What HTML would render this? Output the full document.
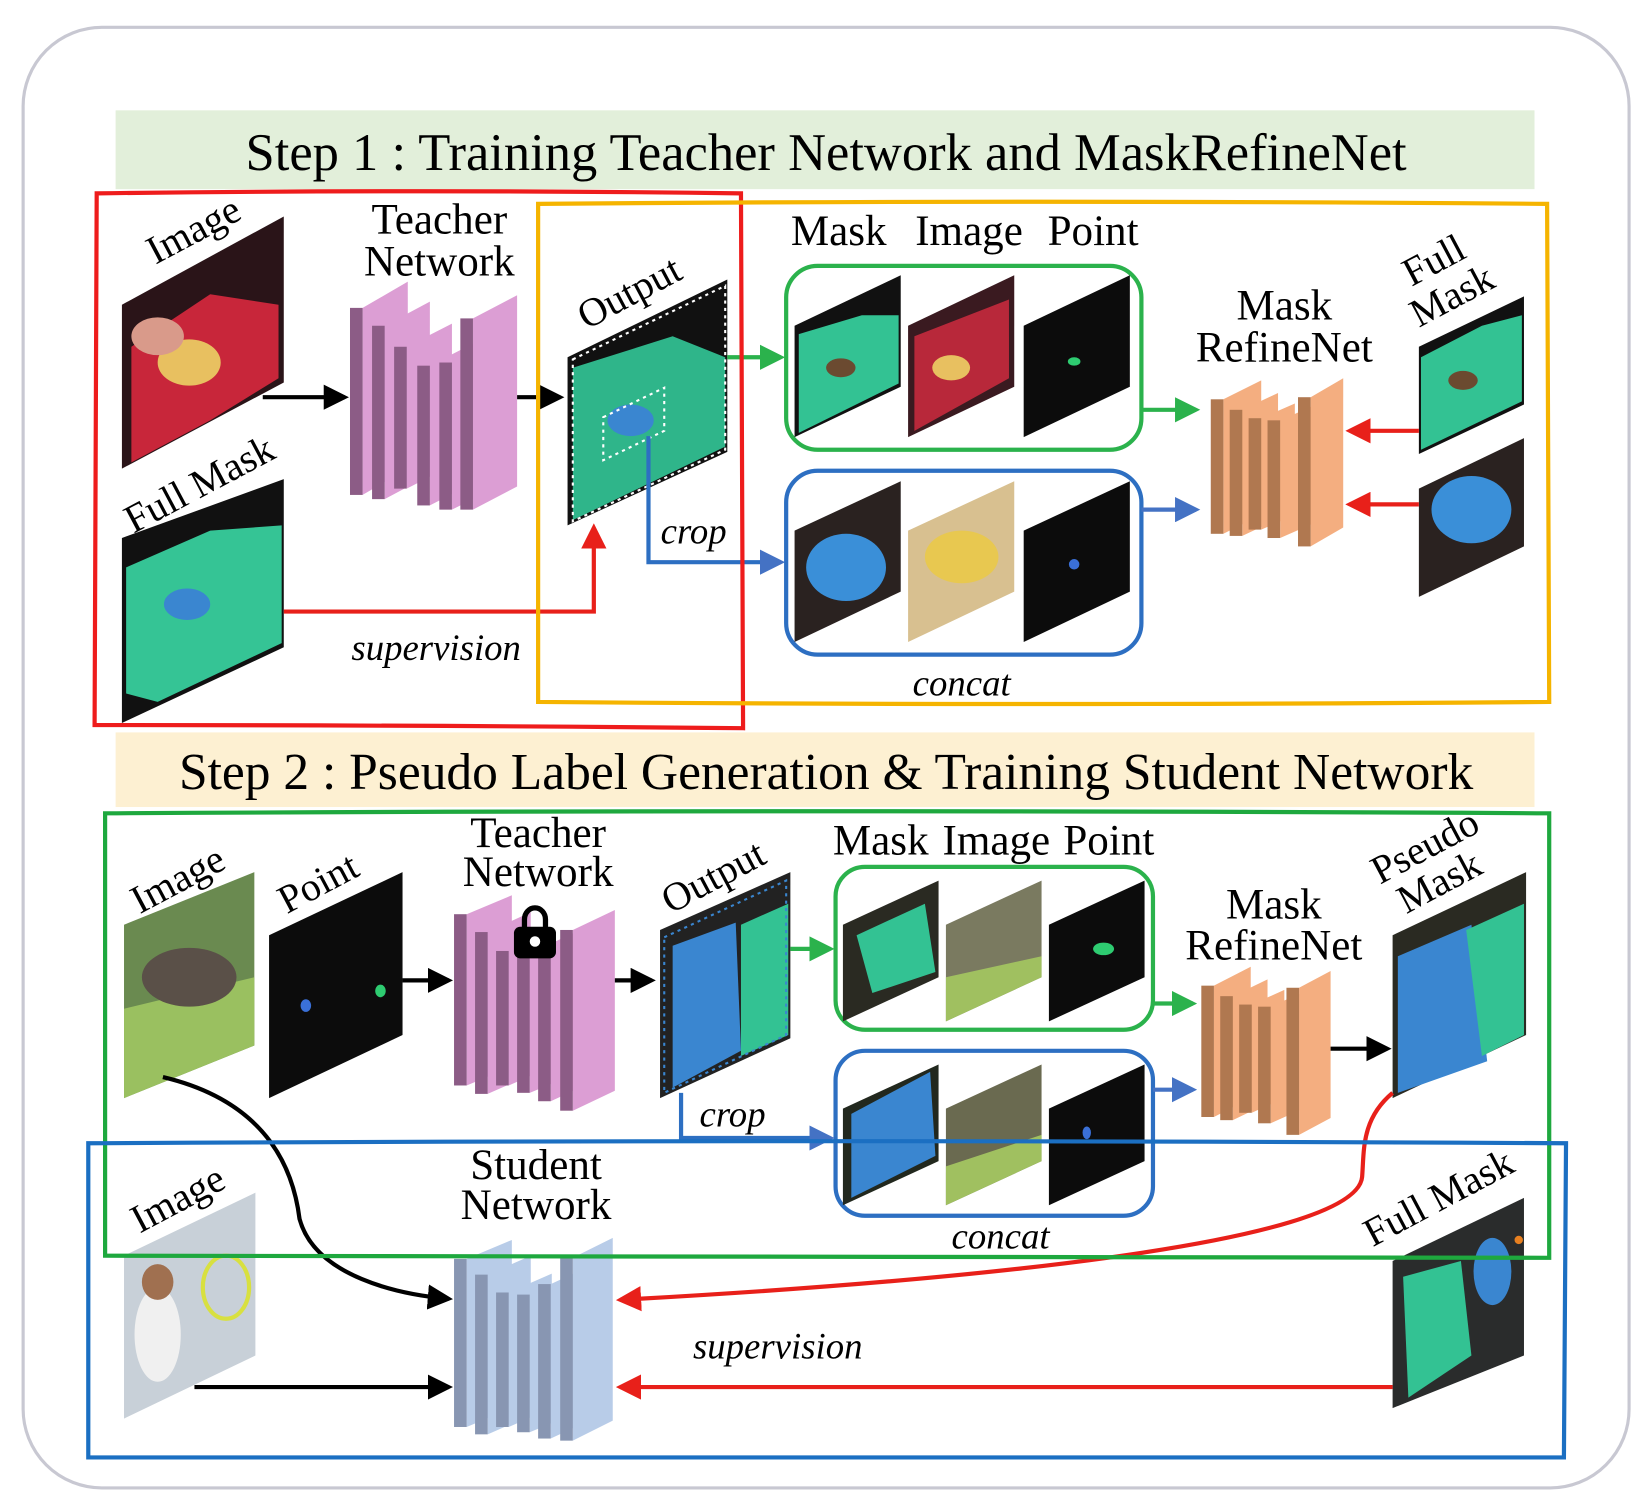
<!DOCTYPE html>
<html><head><meta charset="utf-8"><style>
html,body{margin:0;padding:0;background:#fff;}
svg{display:block;}
text{font-family:"Liberation Serif",serif;fill:#000;}
.it{font-style:italic;}
</style></head><body>
<svg width="1648" height="1510" viewBox="0 0 1568 1437" preserveAspectRatio="none" xmlns="http://www.w3.org/2000/svg">
<defs>
<marker id="ak" markerWidth="6" markerHeight="6" refX="5" refY="3" orient="auto" markerUnits="strokeWidth"><path d="M0,0 L6,3 L0,6 Z" fill="#000"/></marker>
<marker id="ar" markerWidth="6" markerHeight="6" refX="5" refY="3" orient="auto" markerUnits="strokeWidth"><path d="M0,0 L6,3 L0,6 Z" fill="#e8201a"/></marker>
<marker id="ag" markerWidth="6" markerHeight="6" refX="5" refY="3" orient="auto" markerUnits="strokeWidth"><path d="M0,0 L6,3 L0,6 Z" fill="#2bb24c"/></marker>
<marker id="ab" markerWidth="6" markerHeight="6" refX="5" refY="3" orient="auto" markerUnits="strokeWidth"><path d="M0,0 L6,3 L0,6 Z" fill="#4472c4"/></marker>
</defs>

<rect x="22" y="26" width="1528" height="1390" rx="75" fill="#fff" stroke="#c8c8d2" stroke-width="3"/>

<rect x="110" y="105" width="1350" height="75" fill="#e2efda"/>
<text x="786" y="162" font-size="50" text-anchor="middle">Step 1 : Training Teacher Network and MaskRefineNet</text>
<rect x="110" y="697" width="1350" height="71" fill="#fdf0d2"/>
<text x="786" y="751" font-size="49" text-anchor="middle">Step 2 : Pseudo Label Generation &amp; Training Student Network</text>

<!-- STEP 1 -->
<polygon points="116,290 270,206 270,364 116,446" fill="#2a1418"/>
<polygon points="125,330 200,280 265,290 265,360 200,400 125,440" fill="#c8263a"/>
<ellipse cx="180" cy="345" rx="30" ry="22" fill="#e8c060"/>
<ellipse cx="150" cy="320" rx="25" ry="18" fill="#d99a8a"/>
<text transform="translate(148,252) rotate(-28)" font-size="38">Image</text>
<polygon points="116,512 270,456 270,616 116,688" fill="#111"/>
<polygon points="120,540 200,505 268,500 268,612 150,668 120,660" fill="#35c495"/>
<ellipse cx="178" cy="575" rx="22" ry="15" fill="#3a86d0"/>
<text transform="translate(127,508) rotate(-28)" font-size="38">Full Mask</text>

<text x="418" y="222" font-size="41" text-anchor="middle">Teacher</text>
<text x="418" y="262" font-size="41" text-anchor="middle">Network</text>
<g>
<polygon points="345,293 388,268 388,446 345,471" fill="#dc9ed4"/><rect x="333" y="293" width="12" height="178" fill="#8c5c86"/>
<polygon points="366,310 409,287 409,452 366,475" fill="#dc9ed4"/><rect x="354" y="310" width="12" height="165" fill="#8c5c86"/>
<polygon points="387,330 430,308 430,443 387,465" fill="#dc9ed4"/><rect x="375" y="330" width="12" height="135" fill="#8c5c86"/>
<polygon points="409,348 450,327 450,460 409,481" fill="#dc9ed4"/><rect x="397" y="348" width="12" height="133" fill="#8c5c86"/>
<polygon points="430,345 460,330 460,470 430,485" fill="#dc9ed4"/><rect x="418" y="345" width="12" height="140" fill="#8c5c86"/>
<polygon points="450,303 492,281 492,463 450,485" fill="#dc9ed4"/><rect x="438" y="303" width="12" height="182" fill="#8c5c86"/>
</g>
<line x1="250" y1="378" x2="328" y2="378" stroke="#000" stroke-width="4" marker-end="url(#ak)"/>
<line x1="492" y1="378" x2="533" y2="378" stroke="#000" stroke-width="4" marker-end="url(#ak)"/>

<polygon points="540,340 692,266 692,430 540,500" fill="#111"/>
<polygon points="545,350 640,320 690,340 690,425 545,495" fill="#2fb58a"/>
<ellipse cx="600" cy="400" rx="22" ry="15" fill="#3a86d0"/>
<polygon points="545,342 690,272 690,428 545,496" fill="none" stroke="#fff" stroke-width="2" stroke-dasharray="3,4"/>
<polygon points="574,397 632,369 632,410 574,438" fill="none" stroke="#fff" stroke-width="2" stroke-dasharray="3,4"/>
<text transform="translate(558,314) rotate(-28)" font-size="38">Output</text>

<line x1="692" y1="340" x2="743" y2="340" stroke="#2bb24c" stroke-width="4" marker-end="url(#ag)"/>
<polyline points="617,415 617,535 743,535" fill="none" stroke="#2d6fc2" stroke-width="4" marker-end="url(#ab)"/>
<text x="660" y="517" font-size="35" class="it" text-anchor="middle">crop</text>
<polyline points="270,582 565,582 565,502" fill="none" stroke="#e8201a" stroke-width="4" marker-end="url(#ar)"/>
<text x="415" y="628" font-size="35" class="it" text-anchor="middle">supervision</text>

<text x="798" y="233" font-size="41" text-anchor="middle">Mask</text>
<text x="922" y="233" font-size="41" text-anchor="middle">Image</text>
<text x="1040" y="233" font-size="41" text-anchor="middle">Point</text>

<rect x="748" y="253" width="338" height="175" rx="30" fill="none" stroke="#2bb24c" stroke-width="4"/>
<polygon points="756,310 857,262 857,368 756,416" fill="#111"/>
<polygon points="760,318 820,300 855,300 855,365 760,412" fill="#33c293"/>
<ellipse cx="800" cy="350" rx="14" ry="9" fill="#6b4a30"/>
<polygon points="864,310 965,262 965,368 864,416" fill="#3a1a20"/>
<polygon points="870,320 960,285 960,360 870,410" fill="#b8283a"/>
<ellipse cx="905" cy="350" rx="18" ry="12" fill="#e8c060"/>
<polygon points="974,310 1075,262 1075,368 974,416" fill="#0c0c0c"/>
<ellipse cx="1022" cy="344" rx="6" ry="4" fill="#2ecc71"/>

<rect x="748" y="448" width="338" height="175" rx="30" fill="none" stroke="#2d6fc2" stroke-width="4"/>
<polygon points="756,505 857,458 857,563 756,611" fill="#2a2220"/>
<ellipse cx="805" cy="540" rx="38" ry="32" fill="#3a8fd8"/>
<polygon points="864,505 965,458 965,563 864,611" fill="#d8c090"/>
<ellipse cx="915" cy="530" rx="35" ry="25" fill="#e8c850"/>
<polygon points="974,505 1075,458 1075,563 974,611" fill="#0c0c0c"/>
<ellipse cx="1022" cy="537" rx="5" ry="5" fill="#3a70d8"/>
<text x="915" y="662" font-size="35" class="it" text-anchor="middle">concat</text>

<line x1="1086" y1="390" x2="1138" y2="390" stroke="#2bb24c" stroke-width="4" marker-end="url(#ag)"/>
<line x1="1086" y1="485" x2="1138" y2="485" stroke="#4472c4" stroke-width="4" marker-end="url(#ab)"/>

<text x="1222" y="304" font-size="41" text-anchor="middle">Mask</text>
<text x="1222" y="344" font-size="41" text-anchor="middle">RefineNet</text>
<g>
<polygon points="1164,380 1200,362 1200,490 1164,508" fill="#f4ae80"/><rect x="1152" y="380" width="12" height="128" fill="#b07850"/>
<polygon points="1182,390 1216,374 1216,494 1182,510" fill="#f4ae80"/><rect x="1170" y="390" width="12" height="120" fill="#b07850"/>
<polygon points="1200,398 1232,384 1232,490 1200,504" fill="#f4ae80"/><rect x="1188" y="398" width="12" height="106" fill="#b07850"/>
<polygon points="1218,400 1250,386 1250,498 1218,512" fill="#f4ae80"/><rect x="1206" y="400" width="12" height="112" fill="#b07850"/>
<polygon points="1247,378 1278,360 1278,502 1247,520" fill="#f4ae80"/><rect x="1235" y="378" width="12" height="142" fill="#b07850"/>
</g>

<text transform="translate(1343,273) rotate(-28)" font-size="38">Full</text>
<text transform="translate(1350,312) rotate(-28)" font-size="38">Mask</text>
<polygon points="1350,330 1450,282 1450,385 1350,432" fill="#111"/>
<polygon points="1352,340 1410,310 1448,300 1448,382 1352,428" fill="#33c293"/>
<ellipse cx="1392" cy="362" rx="14" ry="9" fill="#6b4a30"/>
<polygon points="1350,465 1450,417 1450,520 1350,568" fill="#2a2220"/>
<ellipse cx="1400" cy="485" rx="38" ry="32" fill="#3a8fd8"/>
<line x1="1350" y1="410" x2="1284" y2="410" stroke="#e8201a" stroke-width="4" marker-end="url(#ar)"/>
<line x1="1350" y1="480" x2="1284" y2="480" stroke="#e8201a" stroke-width="4" marker-end="url(#ar)"/>

<path d="M92,184 Q400,180 705,184 L707,693 Q400,690 90,690 Z" fill="none" stroke="#ee1c1c" stroke-width="4"/>
<path d="M512,194 Q990,190 1472,194 L1474,668 Q990,672 512,668 Z" fill="none" stroke="#f5b400" stroke-width="4"/>

<!-- STEP 2 -->
<text transform="translate(133,870) rotate(-28)" font-size="38">Image</text>
<polygon points="118,880 242,830 242,995 118,1045" fill="#6a8a50"/>
<polygon points="118,960 242,930 242,995 118,1045" fill="#9ac060"/>
<ellipse cx="180" cy="930" rx="45" ry="28" fill="#5a5048"/>

<text transform="translate(273,870) rotate(-28)" font-size="38">Point</text>
<polygon points="256,890 383,830 383,985 256,1045" fill="#0c0c0c"/>
<ellipse cx="291" cy="957" rx="5" ry="6" fill="#3a70d8"/>
<ellipse cx="362" cy="943" rx="5" ry="6" fill="#2ecc71"/>
<line x1="383" y1="933" x2="427" y2="933" stroke="#000" stroke-width="4" marker-end="url(#ak)"/>

<text x="512" y="806" font-size="41" text-anchor="middle">Teacher</text>
<text x="512" y="843" font-size="41" text-anchor="middle">Network</text>
<g>
<polygon points="444,870 487,852 487,1015 444,1033" fill="#dc9ed4"/><rect x="432" y="870" width="12" height="163" fill="#8c5c86"/>
<polygon points="464,887 505,868 505,1023 464,1041" fill="#dc9ed4"/><rect x="452" y="887" width="12" height="154" fill="#8c5c86"/>
<polygon points="484,905 525,887 525,1015 484,1033" fill="#dc9ed4"/><rect x="472" y="905" width="12" height="128" fill="#8c5c86"/>
<polygon points="504,908 540,893 540,1025 504,1040" fill="#dc9ed4"/><rect x="492" y="908" width="12" height="132" fill="#8c5c86"/>
<polygon points="524,898 552,885 552,1035 524,1048" fill="#dc9ed4"/><rect x="512" y="898" width="12" height="150" fill="#8c5c86"/>
<polygon points="545,885 585,866 585,1038 545,1057" fill="#dc9ed4"/><rect x="533" y="885" width="12" height="172" fill="#8c5c86"/>
</g>
<path d="M499,885 v-10 a10,11 0 0 1 20,0 v10" fill="none" stroke="#000" stroke-width="5"/>
<rect x="489" y="882" width="40" height="30" rx="6" fill="#000"/>
<circle cx="509" cy="896" r="5" fill="#fff"/>
<line x1="585" y1="933" x2="620" y2="933" stroke="#000" stroke-width="4" marker-end="url(#ak)"/>

<text transform="translate(638,870) rotate(-28)" font-size="38">Output</text>
<polygon points="628,885 752,830 752,988 628,1045" fill="#222"/>
<polygon points="640,900 700,878 705,1000 640,1035" fill="#3a86d0"/>
<polygon points="705,880 750,860 750,985 705,1005" fill="#33c293"/>
<polygon points="632,892 748,838 748,985 632,1040" fill="none" stroke="#3a86d0" stroke-width="2" stroke-dasharray="3,4"/>
<line x1="752" y1="903" x2="790" y2="903" stroke="#2bb24c" stroke-width="4" marker-end="url(#ag)"/>
<polyline points="648,1040 648,1083 790,1083" fill="none" stroke="#2d6fc2" stroke-width="4" marker-end="url(#ab)"/>
<text x="697" y="1072" font-size="35" class="it" text-anchor="middle">crop</text>

<text x="838" y="813" font-size="41" text-anchor="middle">Mask</text>
<text x="948" y="813" font-size="41" text-anchor="middle">Image</text>
<text x="1055" y="813" font-size="41" text-anchor="middle">Point</text>

<rect x="795" y="825" width="302" height="155" rx="28" fill="none" stroke="#2bb24c" stroke-width="4"/>
<polygon points="802,880 893,838 893,930 802,972" fill="#2a2a22"/>
<polygon points="815,890 880,860 890,925 830,945" fill="#33c293"/>
<polygon points="900,880 991,838 991,930 900,972" fill="#7a7a60"/>
<polygon points="900,930 991,910 991,930 900,972" fill="#a0c060"/>
<polygon points="998,880 1089,838 1089,930 998,972" fill="#0c0c0c"/>
<ellipse cx="1050" cy="903" rx="10" ry="6" fill="#2ecc71"/>

<rect x="795" y="1000" width="302" height="157" rx="28" fill="none" stroke="#2d6fc2" stroke-width="4"/>
<polygon points="802,1055 893,1013 893,1105 802,1147" fill="#22281e"/>
<polygon points="810,1060 885,1020 890,1100 810,1140" fill="#3a86d0"/>
<polygon points="900,1055 991,1013 991,1105 900,1147" fill="#6a6a50"/>
<polygon points="900,1110 991,1080 991,1105 900,1147" fill="#a0c060"/>
<polygon points="998,1055 1089,1013 1089,1105 998,1147" fill="#0c0c0c"/>
<ellipse cx="1034" cy="1078" rx="4" ry="6" fill="#3a70d8"/>
<text x="952" y="1188" font-size="35" class="it" text-anchor="middle">concat</text>

<line x1="1097" y1="955" x2="1135" y2="955" stroke="#2bb24c" stroke-width="4" marker-end="url(#ag)"/>
<line x1="1097" y1="1037" x2="1135" y2="1037" stroke="#4472c4" stroke-width="4" marker-end="url(#ab)"/>

<text x="1212" y="874" font-size="41" text-anchor="middle">Mask</text>
<text x="1212" y="913" font-size="41" text-anchor="middle">RefineNet</text>
<g>
<polygon points="1155,938 1190,920 1190,1045 1155,1063" fill="#f4ae80"/><rect x="1143" y="938" width="12" height="125" fill="#b07850"/>
<polygon points="1173,948 1206,932 1206,1050 1173,1066" fill="#f4ae80"/><rect x="1161" y="948" width="12" height="118" fill="#b07850"/>
<polygon points="1191,956 1222,942 1222,1045 1191,1059" fill="#f4ae80"/><rect x="1179" y="956" width="12" height="103" fill="#b07850"/>
<polygon points="1209,958 1240,944 1240,1055 1209,1069" fill="#f4ae80"/><rect x="1197" y="958" width="12" height="111" fill="#b07850"/>
<polygon points="1236,940 1266,924 1266,1064 1236,1080" fill="#f4ae80"/><rect x="1224" y="940" width="12" height="140" fill="#b07850"/>
</g>
<line x1="1266" y1="998" x2="1320" y2="998" stroke="#000" stroke-width="4" marker-end="url(#ak)"/>

<text transform="translate(1313,842) rotate(-28)" font-size="38">Pseudo</text>
<text transform="translate(1338,870) rotate(-28)" font-size="38">Mask</text>
<polygon points="1325,890 1452,830 1452,985 1325,1045" fill="#2a2a22"/>
<polygon points="1330,910 1400,880 1415,1010 1330,1040" fill="#3a86d0"/>
<polygon points="1395,885 1450,860 1450,985 1410,1005" fill="#33c293"/>

<text x="510" y="1122" font-size="41" text-anchor="middle">Student</text>
<text x="510" y="1160" font-size="41" text-anchor="middle">Network</text>
<g>
<polygon points="444,1198 487,1180 487,1340 444,1358" fill="#b8cce8"/><rect x="432" y="1198" width="12" height="160" fill="#8896b2"/>
<polygon points="464,1213 505,1195 505,1347 464,1365" fill="#b8cce8"/><rect x="452" y="1213" width="12" height="152" fill="#8896b2"/>
<polygon points="484,1230 525,1212 525,1340 484,1358" fill="#b8cce8"/><rect x="472" y="1230" width="12" height="128" fill="#8896b2"/>
<polygon points="504,1232 540,1217 540,1348 504,1363" fill="#b8cce8"/><rect x="492" y="1232" width="12" height="131" fill="#8896b2"/>
<polygon points="524,1222 552,1209 552,1356 524,1369" fill="#b8cce8"/><rect x="512" y="1222" width="12" height="147" fill="#8896b2"/>
<polygon points="545,1197 583,1178 583,1352 545,1371" fill="#b8cce8"/><rect x="533" y="1197" width="12" height="174" fill="#8896b2"/>
</g>

<text transform="translate(133,1174) rotate(-28)" font-size="38">Image</text>
<polygon points="118,1195 243,1135 243,1290 118,1350" fill="#c8d0d8"/>
<ellipse cx="150" cy="1270" rx="22" ry="45" fill="#f0f0f0"/>
<ellipse cx="150" cy="1220" rx="15" ry="17" fill="#a07050"/>
<ellipse cx="215" cy="1225" rx="22" ry="30" fill="none" stroke="#d8e040" stroke-width="4"/>
<path d="M155,1025 C260,1050 280,1120 285,1160 C300,1215 380,1232 427,1236" fill="none" stroke="#000" stroke-width="4" marker-end="url(#ak)"/>
<line x1="185" y1="1320" x2="427" y2="1320" stroke="#000" stroke-width="4" marker-end="url(#ak)"/>

<text transform="translate(1306,1187) rotate(-28)" font-size="38">Full Mask</text>
<polygon points="1325,1200 1450,1140 1450,1290 1325,1340" fill="#2a2c2c"/>
<polygon points="1335,1215 1390,1200 1400,1290 1340,1330" fill="#33c293"/>
<ellipse cx="1420" cy="1210" rx="18" ry="32" fill="#3a86d0"/>
<circle cx="1445" cy="1180" r="4" fill="#e88020"/>

<path d="M1325,1040 C1295,1065 1298,1095 1296,1120 C1290,1185 900,1220 590,1237" fill="none" stroke="#e8201a" stroke-width="4" marker-end="url(#ar)"/>
<line x1="1325" y1="1320" x2="590" y2="1320" stroke="#e8201a" stroke-width="4" marker-end="url(#ar)"/>
<text x="740" y="1293" font-size="35" class="it" text-anchor="middle">supervision</text>

<path d="M100,774 Q790,770 1474,774 L1474,1197 Q790,1193 100,1195 Z" fill="none" stroke="#1ea83e" stroke-width="4"/>
<path d="M84,1088 Q790,1084 1490,1088 L1488,1387 Q790,1384 84,1387 Z" fill="none" stroke="#1b6fc2" stroke-width="4"/>
</svg>
</body></html>
